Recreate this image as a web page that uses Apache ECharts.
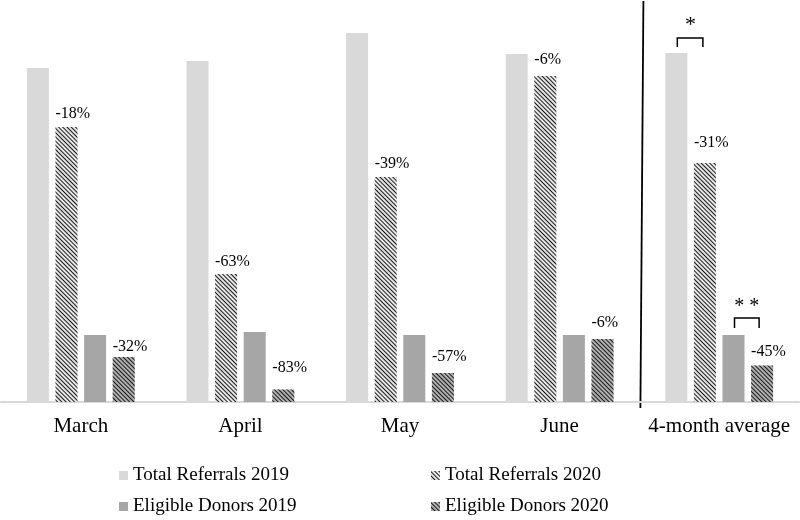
<!DOCTYPE html>
<html>
<head>
<meta charset="utf-8">
<script src="https://cdn.jsdelivr.net/npm/echarts@6/dist/echarts.min.js"></script>
<style>html,body{margin:0;padding:0;background:#fff;}#c{width:800px;height:520px;}</style>
</head>
<body>
<div id="c"></div>
<script>
const categories = ['March', 'April', 'May', 'June', '4-month average'];
const totalReferrals2019 = [334, 341, 369, 348, 349];
const totalReferrals2020 = [275, 128, 225, 326, 239];
const eligibleDonors2019 = [67, 70, 67, 67, 67];
const eligibleDonors2020 = [45, 12.5, 29, 63, 36.5];
const referralChange = ['-18%', '-63%', '-39%', '-6%', '-31%'];
const donorChange = ['-32%', '-83%', '-57%', '-6%', '-45%'];
// label lift above bar (style only)
const referralLabelLift = [5, 4, 5, 8, 12];
const donorLabelLift = [2, 14, 8, 8, 6];

const FONT = 'Liberation Serif';
const BW = 22;

function hatch(color) {
  return { color: color, dashArrayX: [1, 0], dashArrayY: [0.9, 1.7], rotation: Math.PI / 4, symbolSize: 1 };
}
function labelled(values, texts, lifts) {
  return values.map((v, i) => ({
    value: v,
    label: { show: true, formatter: texts[i], distance: lifts[i] }
  }));
}
const pctLabel = {
  show: true, position: 'top', align: 'left', offset: [-BW / 2, 0],
  fontFamily: FONT, fontSize: 16, color: '#000'
};

const chart = echarts.init(document.getElementById('c'));
const legendBase = {
  orient: 'horizontal', icon: 'rect', itemWidth: 9, itemHeight: 9, itemGap: 5,
  textStyle: { fontFamily: FONT, fontSize: 19, color: '#000', padding: [0, 0, 0, 0] },
  selectedMode: false
};
chart.setOption({
  animation: false,
  backgroundColor: '#fff',
  grid: { left: 1, right: 1, top: 2, bottom: 118 },
  legend: [
    Object.assign({}, legendBase, { data: ['Total Referrals 2019'], left: 114, top: 461 }),
    Object.assign({}, legendBase, { data: ['Total Referrals 2020'], left: 426, top: 461 }),
    Object.assign({}, legendBase, { data: ['Eligible Donors 2019'], left: 114, top: 492 }),
    Object.assign({}, legendBase, { data: ['Eligible Donors 2020'], left: 426, top: 492 })
  ],
  xAxis: {
    type: 'category', data: categories,
    axisLine: { lineStyle: { color: '#d9d9d9', width: 2 } },
    axisTick: { show: false },
    axisLabel: { interval: 0, fontFamily: FONT, fontSize: 21, color: '#000', margin: 14 }
  },
  yAxis: { type: 'value', min: 0, max: 400, show: false, splitLine: { show: false } },
  series: [
    { name: 'Total Referrals 2019', type: 'bar', barWidth: BW, barGap: '30%',
      itemStyle: { color: '#d9d9d9' }, data: totalReferrals2019 },
    { name: 'Total Referrals 2020', type: 'bar', barWidth: BW, barGap: '30%',
      itemStyle: { color: '#e6e6e6', decal: hatch('#1a1a1a') }, label: pctLabel,
      data: labelled(totalReferrals2020, referralChange, referralLabelLift) },
    { name: 'Eligible Donors 2019', type: 'bar', barWidth: BW, barGap: '30%',
      itemStyle: { color: '#a6a6a6' }, data: eligibleDonors2019 },
    { name: 'Eligible Donors 2020', type: 'bar', barWidth: BW, barGap: '30%',
      itemStyle: { color: '#b0b0b0', decal: hatch('#1a1a1a') }, label: pctLabel,
      data: labelled(eligibleDonors2020, donorChange, donorLabelLift) }
  ]
});

// decorations computed from the axes
const last = categories.length - 1;
const pLast = chart.convertToPixel({ xAxisIndex: 0, yAxisIndex: 0 }, [last, 0]);
const pPrev = chart.convertToPixel({ xAxisIndex: 0, yAxisIndex: 0 }, [last - 1, 0]);
const sepX = (pLast[0] + pPrev[0]) / 2 + 1;
const baseY = pLast[1];
const step = BW * 1.3;
const off = [-1.5 * step, -0.5 * step, 0.5 * step, 1.5 * step];
const topTR = chart.convertToPixel({ yAxisIndex: 0 }, totalReferrals2019[last]);
const topED = chart.convertToPixel({ yAxisIndex: 0 }, eligibleDonors2019[last]);
function bracket(x1, x2, y, legs) {
  return { type: 'polyline', shape: { points: [[x1, y + legs], [x1, y], [x2, y], [x2, y + legs]] },
    style: { stroke: '#000', lineWidth: 1.5, fill: null } };
}
const c = pLast[0];
const b1y = topTR - 15, b2y = topED - 17;
chart.setOption({
  graphic: [
    { type: 'line', shape: { x1: sepX + 3, y1: 1, x2: sepX, y2: baseY + 6 }, style: { stroke: '#000', lineWidth: 1.8 } },
    bracket(c + off[0] + 1, c + off[1] - 2, b1y, 9),
    { type: 'text', x: (c + off[0] + c + off[1]) / 2, y: b1y - 2, style: { text: '*', fontFamily: FONT, fontSize: 22, fill: '#000', align: 'center', verticalAlign: 'bottom' } },
    bracket(c + off[2] + 1, c + off[3] - 3, b2y, 10),
    { type: 'text', x: (c + off[2] + c + off[3]) / 2 - 1, y: b2y - 1, style: { text: '* *', fontFamily: FONT, fontSize: 20, fill: '#000', align: 'center', verticalAlign: 'bottom' } }
  ]
});
</script>
</body>
</html>
